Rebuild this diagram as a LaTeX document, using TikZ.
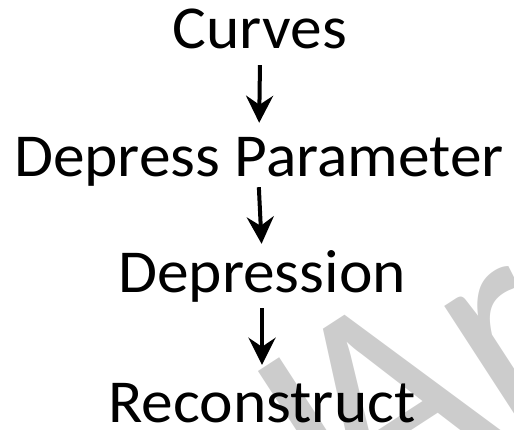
\documentclass[tikz,border=0pt]{standalone}
\usepackage{fontspec}
\setmainfont[FakeStretch=1.04]{Carlito}
\newfontfamily\wmfont{Carlito}
\usepackage{xcolor}
\usepackage{tikz}
\usetikzlibrary{arrows.meta}
\definecolor{ink}{HTML}{000000}
\definecolor{wmgray}{HTML}{CCCCCC}
\tikzset{stage/.style={font=\fontsize{61}{61}\selectfont,text=ink,inner sep=0pt,text height=40pt,text depth=13pt,anchor=base}}
\tikzset{flow/.style={draw=ink,line width=4pt,-{Stealth[length=27pt,width=27pt,inset=9pt]}}}
\tikzset{wmark/.style={font=\wmfont\fontsize{285}{285}\selectfont,text=wmgray,inner sep=0pt,anchor=base west,rotate=33}}

\begin{document}
\begin{tikzpicture}[x=1pt,y=1pt]
\useasboundingbox (0,0) rectangle (514,-430);
\begin{scope}
\clip (0,0) rectangle (514,-430);
\node[wmark] (wm) at (338,-537.6) {I\kern-40pt Ar};
\end{scope}
\node[stage] (curves) at (260,-49) {Curves};
\node[stage] (param) at (259,-177) {Depress Parameter};
\node[stage] (depr) at (262,-293) {Depression};
\node[stage] (recon) at (262,-422) {Reconstruct};
\draw[flow,shorten <=3pt,shorten >=14pt] (curves.south) -- (param.north);
\draw[flow,shorten <=-3pt,shorten >=9pt] (param.south) -- (depr.north);
\draw[flow,shorten <=2pt,shorten >=17pt] (depr.south) -- (recon.north);
\end{tikzpicture}
\end{document}
